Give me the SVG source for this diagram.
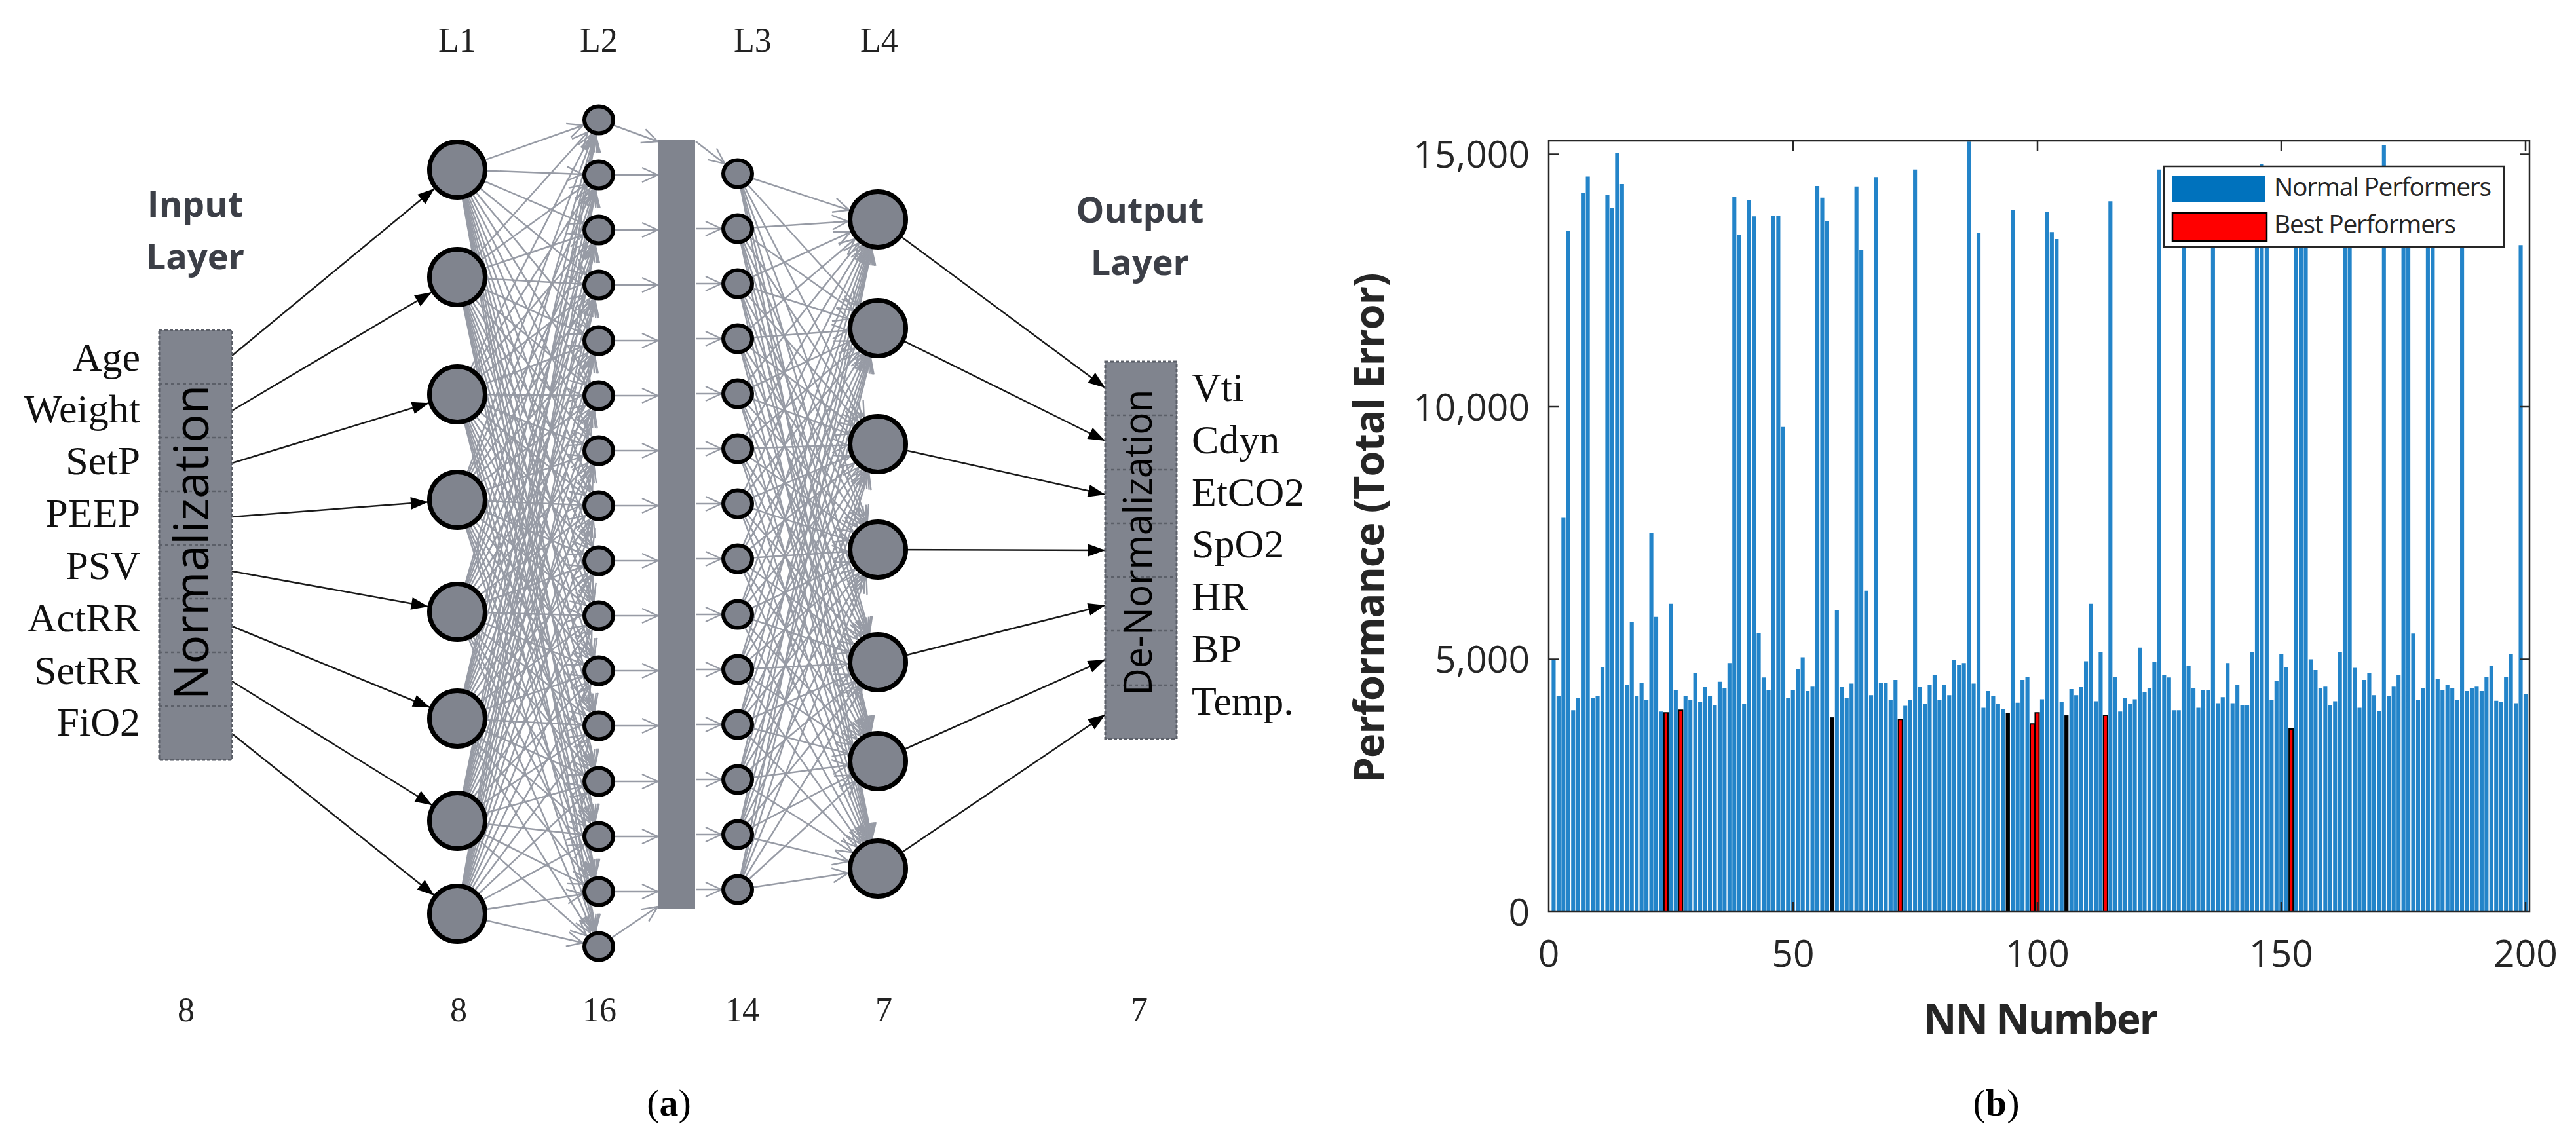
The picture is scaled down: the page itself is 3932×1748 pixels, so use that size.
<svg xmlns="http://www.w3.org/2000/svg" width="3932" height="1748" viewBox="0 0 3932 1748">
<style>
.t{font-family:"Liberation Serif","Times New Roman",serif;font-size:62px;fill:#111}
.lb{font-family:"Liberation Serif","Times New Roman",serif;font-size:52px;fill:#222;text-anchor:middle}
.hd{font-family:"Open Sans","Liberation Sans",sans-serif;font-weight:bold;font-size:54px;fill:#3c3f47;text-anchor:middle}
.nb{fill:#80848e;stroke:#000;stroke-width:7}
.ns{fill:#80848e;stroke:#000;stroke-width:6}
.box{fill:#80848e;stroke:#5b5f68;stroke-width:3;stroke-dasharray:5 3}
.dv{stroke:#5b5f68;stroke-width:2.5;stroke-dasharray:5 4;fill:none}
.g{fill:none;stroke:#979ba5;stroke-width:2.5}
.mc{fill:none;stroke:#979ba5;stroke-width:2.4}
.k{fill:none;stroke:#1a1a1a;stroke-width:2.5}
.rot{font-family:"Open Sans","Liberation Sans",sans-serif;fill:#000;text-anchor:middle}
.ax{fill:none;stroke:#262626;stroke-width:2.5}
.tk{font-family:"Open Sans","Liberation Sans",sans-serif;font-size:57px;fill:#262626}
.lg{font-family:"Open Sans","Liberation Sans",sans-serif;font-size:39px;fill:#262626}
.cap{font-family:"Liberation Serif","Times New Roman",serif;font-size:58px;fill:#000;text-anchor:middle}
</style>
<defs>
<marker id="cs" markerUnits="userSpaceOnUse" viewBox="-120 -40 130 80" markerWidth="130" markerHeight="80" refX="0" refY="0" orient="auto" overflow="visible"><path class="mc" d="M-49,-11L-25,0L-49,11"/></marker>
<marker id="cb" markerUnits="userSpaceOnUse" viewBox="-120 -40 130 80" markerWidth="130" markerHeight="80" refX="0" refY="0" orient="auto" overflow="visible"><path class="mc" d="M-70,-11L-46,0L-70,11"/></marker>
<marker id="c0" markerUnits="userSpaceOnUse" viewBox="-120 -40 130 80" markerWidth="130" markerHeight="80" refX="0" refY="0" orient="auto" overflow="visible"><path class="mc" d="M-24,-11L0,0L-24,11"/></marker>
<marker id="ab" markerUnits="userSpaceOnUse" viewBox="-120 -40 130 80" markerWidth="130" markerHeight="80" refX="0" refY="0" orient="auto" overflow="visible"><path d="M-71,-9.5L-45,0L-71,9.5Z" fill="#000"/></marker>
<marker id="a0" markerUnits="userSpaceOnUse" viewBox="-120 -40 130 80" markerWidth="130" markerHeight="80" refX="0" refY="0" orient="auto" overflow="visible"><path d="M-26,-9.5L0,0L-26,9.5Z" fill="#000"/></marker>
</defs>
<rect width="3932" height="1748" fill="#fff"/>

<!-- ============ Panel (a) ============ -->
<g id="connectors">
<g id="l1-l2" class="g" marker-end="url(#cs)">
<path d="M698 259L914 183"/><path d="M698 259L914 267"/><path d="M698 259L914 351"/><path d="M698 259L914 435"/><path d="M698 259L914 520"/><path d="M698 259L914 604"/><path d="M698 259L914 688"/><path d="M698 259L914 772"/><path d="M698 259L914 856"/><path d="M698 259L914 940"/><path d="M698 259L914 1024"/><path d="M698 259L914 1108"/><path d="M698 259L914 1193"/><path d="M698 259L914 1277"/><path d="M698 259L914 1361"/><path d="M698 259L914 1445"/>
<path d="M698 423L914 183"/><path d="M698 423L914 267"/><path d="M698 423L914 351"/><path d="M698 423L914 435"/><path d="M698 423L914 520"/><path d="M698 423L914 604"/><path d="M698 423L914 688"/><path d="M698 423L914 772"/><path d="M698 423L914 856"/><path d="M698 423L914 940"/><path d="M698 423L914 1024"/><path d="M698 423L914 1108"/><path d="M698 423L914 1193"/><path d="M698 423L914 1277"/><path d="M698 423L914 1361"/><path d="M698 423L914 1445"/>
<path d="M698 602L914 183"/><path d="M698 602L914 267"/><path d="M698 602L914 351"/><path d="M698 602L914 435"/><path d="M698 602L914 520"/><path d="M698 602L914 604"/><path d="M698 602L914 688"/><path d="M698 602L914 772"/><path d="M698 602L914 856"/><path d="M698 602L914 940"/><path d="M698 602L914 1024"/><path d="M698 602L914 1108"/><path d="M698 602L914 1193"/><path d="M698 602L914 1277"/><path d="M698 602L914 1361"/><path d="M698 602L914 1445"/>
<path d="M698 763L914 183"/><path d="M698 763L914 267"/><path d="M698 763L914 351"/><path d="M698 763L914 435"/><path d="M698 763L914 520"/><path d="M698 763L914 604"/><path d="M698 763L914 688"/><path d="M698 763L914 772"/><path d="M698 763L914 856"/><path d="M698 763L914 940"/><path d="M698 763L914 1024"/><path d="M698 763L914 1108"/><path d="M698 763L914 1193"/><path d="M698 763L914 1277"/><path d="M698 763L914 1361"/><path d="M698 763L914 1445"/>
<path d="M698 934L914 183"/><path d="M698 934L914 267"/><path d="M698 934L914 351"/><path d="M698 934L914 435"/><path d="M698 934L914 520"/><path d="M698 934L914 604"/><path d="M698 934L914 688"/><path d="M698 934L914 772"/><path d="M698 934L914 856"/><path d="M698 934L914 940"/><path d="M698 934L914 1024"/><path d="M698 934L914 1108"/><path d="M698 934L914 1193"/><path d="M698 934L914 1277"/><path d="M698 934L914 1361"/><path d="M698 934L914 1445"/>
<path d="M698 1097L914 183"/><path d="M698 1097L914 267"/><path d="M698 1097L914 351"/><path d="M698 1097L914 435"/><path d="M698 1097L914 520"/><path d="M698 1097L914 604"/><path d="M698 1097L914 688"/><path d="M698 1097L914 772"/><path d="M698 1097L914 856"/><path d="M698 1097L914 940"/><path d="M698 1097L914 1024"/><path d="M698 1097L914 1108"/><path d="M698 1097L914 1193"/><path d="M698 1097L914 1277"/><path d="M698 1097L914 1361"/><path d="M698 1097L914 1445"/>
<path d="M698 1253L914 183"/><path d="M698 1253L914 267"/><path d="M698 1253L914 351"/><path d="M698 1253L914 435"/><path d="M698 1253L914 520"/><path d="M698 1253L914 604"/><path d="M698 1253L914 688"/><path d="M698 1253L914 772"/><path d="M698 1253L914 856"/><path d="M698 1253L914 940"/><path d="M698 1253L914 1024"/><path d="M698 1253L914 1108"/><path d="M698 1253L914 1193"/><path d="M698 1253L914 1277"/><path d="M698 1253L914 1361"/><path d="M698 1253L914 1445"/>
<path d="M698 1395L914 183"/><path d="M698 1395L914 267"/><path d="M698 1395L914 351"/><path d="M698 1395L914 435"/><path d="M698 1395L914 520"/><path d="M698 1395L914 604"/><path d="M698 1395L914 688"/><path d="M698 1395L914 772"/><path d="M698 1395L914 856"/><path d="M698 1395L914 940"/><path d="M698 1395L914 1024"/><path d="M698 1395L914 1108"/><path d="M698 1395L914 1193"/><path d="M698 1395L914 1277"/><path d="M698 1395L914 1361"/><path d="M698 1395L914 1445"/>
</g>
<g id="l2-bar" class="g" marker-end="url(#c0)">
<path d="M914 183L1004 216"/><path d="M914 267L1004 267"/><path d="M914 351L1004 351"/><path d="M914 435L1004 435"/><path d="M914 520L1004 520"/><path d="M914 604L1004 604"/><path d="M914 688L1004 688"/><path d="M914 772L1004 772"/><path d="M914 856L1004 856"/><path d="M914 940L1004 940"/><path d="M914 1024L1004 1024"/><path d="M914 1108L1004 1108"/><path d="M914 1193L1004 1193"/><path d="M914 1277L1004 1277"/><path d="M914 1361L1004 1361"/><path d="M914 1445L1004 1384"/>
</g>
<g id="bar-l3" class="g" marker-end="url(#cs)">
<path d="M1062 216L1126 265"/><path d="M1062 349L1126 349"/><path d="M1062 433L1126 433"/><path d="M1062 517L1126 517"/><path d="M1062 601L1126 601"/><path d="M1062 685L1126 685"/><path d="M1062 769L1126 769"/><path d="M1062 853L1126 853"/><path d="M1062 938L1126 938"/><path d="M1062 1022L1126 1022"/><path d="M1062 1106L1126 1106"/><path d="M1062 1190L1126 1190"/><path d="M1062 1274L1126 1274"/><path d="M1062 1358L1126 1358"/>
</g>
<g id="l3-l4" class="g" marker-end="url(#cb)">
<path d="M1126 265L1340 335"/><path d="M1126 265L1340 501"/><path d="M1126 265L1340 678"/><path d="M1126 265L1340 839"/><path d="M1126 265L1340 1011"/><path d="M1126 265L1340 1162"/><path d="M1126 265L1340 1326"/>
<path d="M1126 349L1340 335"/><path d="M1126 349L1340 501"/><path d="M1126 349L1340 678"/><path d="M1126 349L1340 839"/><path d="M1126 349L1340 1011"/><path d="M1126 349L1340 1162"/><path d="M1126 349L1340 1326"/>
<path d="M1126 433L1340 335"/><path d="M1126 433L1340 501"/><path d="M1126 433L1340 678"/><path d="M1126 433L1340 839"/><path d="M1126 433L1340 1011"/><path d="M1126 433L1340 1162"/><path d="M1126 433L1340 1326"/>
<path d="M1126 517L1340 335"/><path d="M1126 517L1340 501"/><path d="M1126 517L1340 678"/><path d="M1126 517L1340 839"/><path d="M1126 517L1340 1011"/><path d="M1126 517L1340 1162"/><path d="M1126 517L1340 1326"/>
<path d="M1126 601L1340 335"/><path d="M1126 601L1340 501"/><path d="M1126 601L1340 678"/><path d="M1126 601L1340 839"/><path d="M1126 601L1340 1011"/><path d="M1126 601L1340 1162"/><path d="M1126 601L1340 1326"/>
<path d="M1126 685L1340 335"/><path d="M1126 685L1340 501"/><path d="M1126 685L1340 678"/><path d="M1126 685L1340 839"/><path d="M1126 685L1340 1011"/><path d="M1126 685L1340 1162"/><path d="M1126 685L1340 1326"/>
<path d="M1126 769L1340 335"/><path d="M1126 769L1340 501"/><path d="M1126 769L1340 678"/><path d="M1126 769L1340 839"/><path d="M1126 769L1340 1011"/><path d="M1126 769L1340 1162"/><path d="M1126 769L1340 1326"/>
<path d="M1126 853L1340 335"/><path d="M1126 853L1340 501"/><path d="M1126 853L1340 678"/><path d="M1126 853L1340 839"/><path d="M1126 853L1340 1011"/><path d="M1126 853L1340 1162"/><path d="M1126 853L1340 1326"/>
<path d="M1126 938L1340 335"/><path d="M1126 938L1340 501"/><path d="M1126 938L1340 678"/><path d="M1126 938L1340 839"/><path d="M1126 938L1340 1011"/><path d="M1126 938L1340 1162"/><path d="M1126 938L1340 1326"/>
<path d="M1126 1022L1340 335"/><path d="M1126 1022L1340 501"/><path d="M1126 1022L1340 678"/><path d="M1126 1022L1340 839"/><path d="M1126 1022L1340 1011"/><path d="M1126 1022L1340 1162"/><path d="M1126 1022L1340 1326"/>
<path d="M1126 1106L1340 335"/><path d="M1126 1106L1340 501"/><path d="M1126 1106L1340 678"/><path d="M1126 1106L1340 839"/><path d="M1126 1106L1340 1011"/><path d="M1126 1106L1340 1162"/><path d="M1126 1106L1340 1326"/>
<path d="M1126 1190L1340 335"/><path d="M1126 1190L1340 501"/><path d="M1126 1190L1340 678"/><path d="M1126 1190L1340 839"/><path d="M1126 1190L1340 1011"/><path d="M1126 1190L1340 1162"/><path d="M1126 1190L1340 1326"/>
<path d="M1126 1274L1340 335"/><path d="M1126 1274L1340 501"/><path d="M1126 1274L1340 678"/><path d="M1126 1274L1340 839"/><path d="M1126 1274L1340 1011"/><path d="M1126 1274L1340 1162"/><path d="M1126 1274L1340 1326"/>
<path d="M1126 1358L1340 335"/><path d="M1126 1358L1340 501"/><path d="M1126 1358L1340 678"/><path d="M1126 1358L1340 839"/><path d="M1126 1358L1340 1011"/><path d="M1126 1358L1340 1162"/><path d="M1126 1358L1340 1326"/>
</g>
<g id="in-l1" class="k" marker-end="url(#ab)">
<path d="M354 543L698 259"/><path d="M354 627L698 423"/><path d="M354 707L698 602"/><path d="M354 789L698 763"/><path d="M354 872L698 934"/><path d="M354 956L698 1097"/><path d="M354 1040L698 1253"/><path d="M354 1120L698 1395"/>
</g>
<g id="l4-out" class="k" marker-end="url(#a0)">
<path d="M1340 335L1687 592"/><path d="M1340 501L1687 673"/><path d="M1340 678L1687 755"/><path d="M1340 839L1687 840"/><path d="M1340 1011L1687 924"/><path d="M1340 1162L1687 1007"/><path d="M1340 1326L1687 1091"/>
</g>
</g>

<g id="input-box">
<rect class="box" x="243" y="504" width="111" height="656"/>
<path class="dv" d="M243 586H354M243 668H354M243 750H354M243 832H354M243 914H354M243 996H354M243 1078H354"/>
<text class="rot" transform="translate(318,828) rotate(-90)" font-size="74" textLength="481" lengthAdjust="spacingAndGlyphs">Normalization</text>
</g>
<g id="output-box">
<rect class="box" x="1687" y="552" width="109" height="576"/>
<path class="dv" d="M1687 634H1796M1687 717H1796M1687 799H1796M1687 881H1796M1687 963H1796M1687 1046H1796"/>
<text class="rot" transform="translate(1758,828) rotate(-90)" font-size="60" textLength="467" lengthAdjust="spacingAndGlyphs">De-Normalization</text>
</g>
<g id="bar-layer"><rect x="1005" y="213" width="56" height="1174" fill="#80848e"/></g>

<g id="L1">
<g id="l1-n1"><circle class="nb" cx="698" cy="259" r="42.5"/></g>
<g id="l1-n2"><circle class="nb" cx="698" cy="423" r="42.5"/></g>
<g id="l1-n3"><circle class="nb" cx="698" cy="602" r="42.5"/></g>
<g id="l1-n4"><circle class="nb" cx="698" cy="763" r="42.5"/></g>
<g id="l1-n5"><circle class="nb" cx="698" cy="934" r="42.5"/></g>
<g id="l1-n6"><circle class="nb" cx="698" cy="1097" r="42.5"/></g>
<g id="l1-n7"><circle class="nb" cx="698" cy="1253" r="42.5"/></g>
<g id="l1-n8"><circle class="nb" cx="698" cy="1395" r="42.5"/></g>
</g>
<g id="L2">
<g id="l2-n1"><ellipse class="ns" cx="914" cy="183" rx="22" ry="20.5"/></g>
<g id="l2-n2"><ellipse class="ns" cx="914" cy="267" rx="22" ry="20.5"/></g>
<g id="l2-n3"><ellipse class="ns" cx="914" cy="351" rx="22" ry="20.5"/></g>
<g id="l2-n4"><ellipse class="ns" cx="914" cy="435" rx="22" ry="20.5"/></g>
<g id="l2-n5"><ellipse class="ns" cx="914" cy="520" rx="22" ry="20.5"/></g>
<g id="l2-n6"><ellipse class="ns" cx="914" cy="604" rx="22" ry="20.5"/></g>
<g id="l2-n7"><ellipse class="ns" cx="914" cy="688" rx="22" ry="20.5"/></g>
<g id="l2-n8"><ellipse class="ns" cx="914" cy="772" rx="22" ry="20.5"/></g>
<g id="l2-n9"><ellipse class="ns" cx="914" cy="856" rx="22" ry="20.5"/></g>
<g id="l2-n10"><ellipse class="ns" cx="914" cy="940" rx="22" ry="20.5"/></g>
<g id="l2-n11"><ellipse class="ns" cx="914" cy="1024" rx="22" ry="20.5"/></g>
<g id="l2-n12"><ellipse class="ns" cx="914" cy="1108" rx="22" ry="20.5"/></g>
<g id="l2-n13"><ellipse class="ns" cx="914" cy="1193" rx="22" ry="20.5"/></g>
<g id="l2-n14"><ellipse class="ns" cx="914" cy="1277" rx="22" ry="20.5"/></g>
<g id="l2-n15"><ellipse class="ns" cx="914" cy="1361" rx="22" ry="20.5"/></g>
<g id="l2-n16"><ellipse class="ns" cx="914" cy="1445" rx="22" ry="20.5"/></g>
</g>
<g id="L3">
<g id="l3-n1"><ellipse class="ns" cx="1126" cy="265" rx="22" ry="20.5"/></g>
<g id="l3-n2"><ellipse class="ns" cx="1126" cy="349" rx="22" ry="20.5"/></g>
<g id="l3-n3"><ellipse class="ns" cx="1126" cy="433" rx="22" ry="20.5"/></g>
<g id="l3-n4"><ellipse class="ns" cx="1126" cy="517" rx="22" ry="20.5"/></g>
<g id="l3-n5"><ellipse class="ns" cx="1126" cy="601" rx="22" ry="20.5"/></g>
<g id="l3-n6"><ellipse class="ns" cx="1126" cy="685" rx="22" ry="20.5"/></g>
<g id="l3-n7"><ellipse class="ns" cx="1126" cy="769" rx="22" ry="20.5"/></g>
<g id="l3-n8"><ellipse class="ns" cx="1126" cy="853" rx="22" ry="20.5"/></g>
<g id="l3-n9"><ellipse class="ns" cx="1126" cy="938" rx="22" ry="20.5"/></g>
<g id="l3-n10"><ellipse class="ns" cx="1126" cy="1022" rx="22" ry="20.5"/></g>
<g id="l3-n11"><ellipse class="ns" cx="1126" cy="1106" rx="22" ry="20.5"/></g>
<g id="l3-n12"><ellipse class="ns" cx="1126" cy="1190" rx="22" ry="20.5"/></g>
<g id="l3-n13"><ellipse class="ns" cx="1126" cy="1274" rx="22" ry="20.5"/></g>
<g id="l3-n14"><ellipse class="ns" cx="1126" cy="1358" rx="22" ry="20.5"/></g>
</g>
<g id="L4">
<g id="l4-n1"><circle class="nb" cx="1340" cy="335" r="42.5"/></g>
<g id="l4-n2"><circle class="nb" cx="1340" cy="501" r="42.5"/></g>
<g id="l4-n3"><circle class="nb" cx="1340" cy="678" r="42.5"/></g>
<g id="l4-n4"><circle class="nb" cx="1340" cy="839" r="42.5"/></g>
<g id="l4-n5"><circle class="nb" cx="1340" cy="1011" r="42.5"/></g>
<g id="l4-n6"><circle class="nb" cx="1340" cy="1162" r="42.5"/></g>
<g id="l4-n7"><circle class="nb" cx="1340" cy="1326" r="42.5"/></g>
</g>

<g id="labels-a">
<text class="lb" x="698" y="79">L1</text>
<text class="lb" x="914" y="79">L2</text>
<text class="lb" x="1149" y="79">L3</text>
<text class="lb" x="1342" y="79">L4</text>
<text class="hd" x="298" y="331">Input</text>
<text class="hd" x="298" y="411">Layer</text>
<text class="hd" x="1740" y="340">Output</text>
<text class="hd" x="1740" y="420">Layer</text>
<g class="t" text-anchor="end">
<text x="214" y="566">Age</text>
<text x="214" y="645">Weight</text>
<text x="214" y="724">SetP</text>
<text x="214" y="804">PEEP</text>
<text x="214" y="884">PSV</text>
<text x="214" y="964">ActRR</text>
<text x="214" y="1044">SetRR</text>
<text x="214" y="1123">FiO2</text>
</g>
<g class="t">
<text x="1819" y="612">Vti</text>
<text x="1819" y="692">Cdyn</text>
<text x="1819" y="772">EtCO2</text>
<text x="1819" y="851">SpO2</text>
<text x="1819" y="931">HR</text>
<text x="1819" y="1011">BP</text>
<text x="1819" y="1091">Temp.</text>
</g>
<text class="lb" x="284" y="1559">8</text>
<text class="lb" x="700" y="1559">8</text>
<text class="lb" x="915" y="1559">16</text>
<text class="lb" x="1133" y="1559">14</text>
<text class="lb" x="1349" y="1559">7</text>
<text class="lb" x="1739" y="1559">7</text>
<text class="cap" x="1021" y="1703">(<tspan font-weight="bold">a</tspan>)</text>
</g>

<!-- ============ Panel (b) ============ -->
<g id="chart">
<g transform="translate(2364,1392) scale(7.455,-0.0771)">
<path fill="#2384c9" d="M.59 0h.82v5000h-.82zm1 0h.82v4270h-.82zm1 0h.82v7800h-.82zm1 0h.82v13475h-.82zm1 0h.82v3990h-.82zm1 0h.82v4230h-.82zm1 0h.82v14240h-.82zm1 0h.82v14560h-.82zm1 0h.82v4230h-.82zm1 0h.82v4270h-.82zm1 0h.82v4850h-.82zm1 0h.82v14200h-.82zm1 0h.82v13930h-.82zm1 0h.82v15020h-.82zm1 0h.82v14410h-.82zm1 0h.82v4500h-.82zm1 0h.82v5740h-.82zm1 0h.82v4270h-.82zm1 0h.82v4540h-.82zm1 0h.82v4195h-.82zm1 0h.82v7510h-.82zm1 0h.82v5840h-.82zm1 0h.82v3965h-.82zm1 0h.82v3940h-.82zm1 0h.82v6100h-.82zm1 0h.82v4390h-.82zm1 0h.82v3990h-.82zm1 0h.82v4270h-.82zm1 0h.82v4195h-.82zm1 0h.82v4730h-.82zm1 0h.82v4160h-.82zm1 0h.82v4450h-.82zm1 0h.82v4270h-.82zm1 0h.82v4095h-.82zm1 0h.82v4555h-.82zm1 0h.82v4425h-.82zm1 0h.82v4925h-.82zm1 0h.82v14150h-.82zm1 0h.82v13400h-.82zm1 0h.82v4120h-.82zm1 0h.82v14090h-.82zm1 0h.82v13770h-.82zm1 0h.82v5520h-.82zm1 0h.82v4640h-.82zm1 0h.82v4390h-.82zm1 0h.82v13780h-.82zm1 0h.82v13780h-.82zm1 0h.82v9600h-.82zm1 0h.82v4230h-.82zm1 0h.82v4390h-.82zm1 0h.82v4810h-.82zm1 0h.82v5040h-.82zm1 0h.82v4370h-.82zm1 0h.82v4460h-.82zm1 0h.82v14370h-.82zm1 0h.82v14140h-.82zm1 0h.82v13680h-.82zm1 0h.82v3850h-.82zm1 0h.82v5980h-.82zm1 0h.82v4450h-.82zm1 0h.82v4230h-.82zm1 0h.82v4520h-.82zm1 0h.82v14360h-.82zm1 0h.82v13110h-.82zm1 0h.82v6360h-.82zm1 0h.82v4290h-.82zm1 0h.82v14550h-.82zm1 0h.82v4540h-.82zm1 0h.82v4540h-.82zm1 0h.82v4195h-.82zm1 0h.82v4590h-.82zm1 0h.82v3810h-.82zm1 0h.82v4080h-.82zm1 0h.82v4195h-.82zm1 0h.82v14700h-.82zm1 0h.82v4450h-.82zm1 0h.82v4120h-.82zm1 0h.82v4500h-.82zm1 0h.82v4690h-.82zm1 0h.82v4195h-.82zm1 0h.82v4500h-.82zm1 0h.82v4290h-.82zm1 0h.82v4980h-.82zm1 0h.82v4890h-.82zm1 0h.82v4925h-.82zm1 0h.82v15250h-.82zm1 0h.82v4520h-.82zm1 0h.82v13440h-.82zm1 0h.82v4040h-.82zm1 0h.82v4370h-.82zm1 0h.82v4270h-.82zm1 0h.82v4120h-.82zm1 0h.82v4020h-.82zm1 0h.82v3940h-.82zm1 0h.82v13900h-.82zm1 0h.82v4140h-.82zm1 0h.82v4590h-.82zm1 0h.82v4650h-.82zm1 0h.82v3720h-.82zm1 0h.82v3940h-.82zm1 0h.82v4210h-.82zm1 0h.82v13860h-.82zm1 0h.82v13460h-.82zm1 0h.82v13320h-.82zm1 0h.82v4160h-.82zm1 0h.82v3890h-.82zm1 0h.82v4410h-.82zm1 0h.82v4290h-.82zm1 0h.82v4450h-.82zm1 0h.82v4960h-.82zm1 0h.82v6100h-.82zm1 0h.82v4170h-.82zm1 0h.82v5150h-.82zm1 0h.82v3890h-.82zm1 0h.82v14070h-.82zm1 0h.82v4650h-.82zm1 0h.82v3965h-.82zm1 0h.82v4230h-.82zm1 0h.82v4120h-.82zm1 0h.82v4210h-.82zm1 0h.82v5230h-.82zm1 0h.82v4350h-.82zm1 0h.82v4425h-.82zm1 0h.82v4950h-.82zm1 0h.82v14700h-.82zm1 0h.82v4690h-.82zm1 0h.82v4640h-.82zm1 0h.82v3990h-.82zm1 0h.82v3990h-.82zm1 0h.82v14000h-.82zm1 0h.82v4870h-.82zm1 0h.82v4425h-.82zm1 0h.82v4040h-.82zm1 0h.82v4390h-.82zm1 0h.82v4390h-.82zm1 0h.82v14000h-.82zm1 0h.82v4130h-.82zm1 0h.82v4250h-.82zm1 0h.82v4925h-.82zm1 0h.82v4130h-.82zm1 0h.82v4500h-.82zm1 0h.82v4095h-.82zm1 0h.82v4095h-.82zm1 0h.82v5150h-.82zm1 0h.82v14000h-.82zm1 0h.82v14800h-.82zm1 0h.82v14000h-.82zm1 0h.82v4195h-.82zm1 0h.82v4580h-.82zm1 0h.82v5100h-.82zm1 0h.82v4850h-.82zm1 0h.82v3620h-.82zm1 0h.82v14000h-.82zm1 0h.82v14000h-.82zm1 0h.82v14000h-.82zm1 0h.82v5000h-.82zm1 0h.82v4785h-.82zm1 0h.82v4425h-.82zm1 0h.82v4460h-.82zm1 0h.82v4095h-.82zm1 0h.82v4170h-.82zm1 0h.82v5150h-.82zm1 0h.82v14000h-.82zm1 0h.82v14000h-.82zm1 0h.82v4830h-.82zm1 0h.82v4040h-.82zm1 0h.82v4590h-.82zm1 0h.82v4730h-.82zm1 0h.82v4290h-.82zm1 0h.82v3980h-.82zm1 0h.82v15180h-.82zm1 0h.82v4270h-.82zm1 0h.82v4460h-.82zm1 0h.82v4690h-.82zm1 0h.82v14000h-.82zm1 0h.82v14000h-.82zm1 0h.82v5510h-.82zm1 0h.82v4195h-.82zm1 0h.82v4425h-.82zm1 0h.82v14000h-.82zm1 0h.82v14000h-.82zm1 0h.82v4610h-.82zm1 0h.82v4390h-.82zm1 0h.82v4500h-.82zm1 0h.82v4425h-.82zm1 0h.82v4195h-.82zm1 0h.82v14000h-.82zm1 0h.82v4370h-.82zm1 0h.82v4425h-.82zm1 0h.82v4460h-.82zm1 0h.82v4370h-.82zm1 0h.82v4650h-.82zm1 0h.82v4870h-.82zm1 0h.82v4180h-.82zm1 0h.82v4160h-.82zm1 0h.82v4650h-.82zm1 0h.82v5110h-.82zm1 0h.82v4130h-.82zm1 0h.82v13200h-.82zm1 0h.82v4310h-.82z"/>
<g fill="#ff0000" stroke="#000" stroke-width="2">
<rect x="23.59" y="0" width=".82" height="3940" vector-effect="non-scaling-stroke"/>
<rect x="26.59" y="0" width=".82" height="3990" vector-effect="non-scaling-stroke"/>
<rect x="71.59" y="0" width=".82" height="3810" vector-effect="non-scaling-stroke"/>
<rect x="98.59" y="0" width=".82" height="3720" vector-effect="non-scaling-stroke"/>
<rect x="99.59" y="0" width=".82" height="3940" vector-effect="non-scaling-stroke"/>
<rect x="113.59" y="0" width=".82" height="3890" vector-effect="non-scaling-stroke"/>
<rect x="151.59" y="0" width=".82" height="3620" vector-effect="non-scaling-stroke"/>
</g>
<g fill="#000">
<rect x="57.59" y="0" width=".82" height="3850"/>
<rect x="93.59" y="0" width=".82" height="3940"/>
<rect x="105.59" y="0" width=".82" height="3890"/>
</g>
</g>
<rect class="ax" x="2364" y="215" width="1497" height="1177"/>
<path class="ax" d="M2364 235.5h15M2364 621h15M2364 1006.5h15M3861 235.5h-15M3861 621h-15M3861 1006.5h-15M2737 215v15M3110 215v15M3482 215v15M3855 215v15M2737 1392v-15M3110 1392v-15M3482 1392v-15M3855 1392v-15"/>
<g class="tk" text-anchor="end">
<text x="2335" y="256">15,000</text>
<text x="2335" y="642">10,000</text>
<text x="2335" y="1027">5,000</text>
<text x="2335" y="1413">0</text>
</g>
<g class="tk" text-anchor="middle">
<text x="2364" y="1476">0</text>
<text x="2737" y="1476">50</text>
<text x="3110" y="1476">100</text>
<text x="3482" y="1476">150</text>
<text x="3855" y="1476">200</text>
</g>
<text x="3115" y="1578" font-family="Open Sans, Liberation Sans, sans-serif" font-weight="bold" font-size="62" fill="#262626" text-anchor="middle" textLength="358">NN Number</text>
<text transform="translate(2112,806) rotate(-90)" font-family="Open Sans, Liberation Sans, sans-serif" font-weight="bold" font-size="63" fill="#262626" text-anchor="middle" textLength="779">Performance (Total Error)</text>
<g id="legend">
<rect x="3303" y="254" width="519" height="123" fill="#fff" stroke="#262626" stroke-width="2.5"/>
<rect x="3315" y="268" width="143" height="40" fill="#0072bd"/>
<rect x="3316" y="325" width="144" height="43" fill="#ff0000" stroke="#000" stroke-width="2.5"/>
<text class="lg" x="3471" y="299" textLength="332">Normal Performers</text>
<text class="lg" x="3471" y="356" textLength="278">Best Performers</text>
</g>
<text class="cap" x="3047" y="1703">(<tspan font-weight="bold">b</tspan>)</text>
</g>
</svg>
